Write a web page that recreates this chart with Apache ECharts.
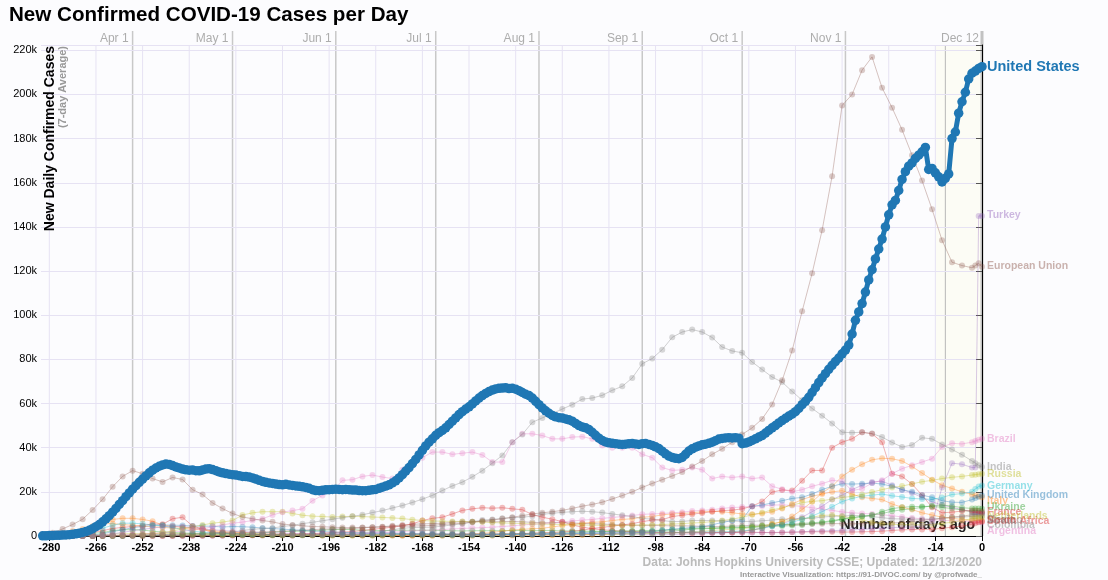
<!DOCTYPE html>
<html><head><meta charset="utf-8">
<script src="https://cdn.jsdelivr.net/npm/echarts@6/dist/echarts.min.js"></script>
<style>html,body{margin:0;padding:0;background:#fcfcfe}#c{width:1108px;height:580px}</style>
</head><body><div id="c"></div>
<script>
// ---------- DATA (values in thousands of cases, 7-day average) ----------
const xTicks = [-280,-266,-252,-238,-224,-210,-196,-182,-168,-154,-140,-126,-112,-98,-84,-70,-56,-42,-28,-14,0];
const monthDays = [-255,-225,-194,-164,-133,-102,-72,-41,-11,0];
const monthNames = ['Apr 1','May 1','Jun 1','Jul 1','Aug 1','Sep 1','Oct 1','Nov 1','','Dec 12'];

// United States: daily from day -282 to day 0
const usFirstDay = -282;
const usValues = [
0.1,0.1,0.2,0.2,0.3,0.3,0.4,0.5,0.6,0.8,
1.0,1.3,1.6,2.0,2.6,3.3,4.2,5.2,6.4,7.8,
9.2,10.8,12.5,14.3,16.0,17.8,19.5,21.2,22.8,24.3,
25.8,27.2,28.6,29.8,30.8,31.6,32.2,32.6,32.4,31.9,
31.3,30.8,30.3,30.0,29.8,29.9,29.6,29.5,29.9,30.3,
30.5,30.1,29.6,29.0,28.6,28.3,28.0,27.8,27.6,27.3,
27.0,26.9,26.7,26.3,25.8,25.2,24.7,24.3,24.0,23.8,
23.5,23.3,23.2,23.4,23.1,22.9,22.7,22.5,22.3,22.0,
21.6,21.0,20.6,20.5,20.7,20.9,21.0,21.1,21.2,21.1,
21.0,21.1,21.0,20.8,20.8,20.6,20.5,20.5,20.7,20.9,
21.1,21.6,22.1,22.6,23.2,24.0,25.0,26.3,27.8,29.4,
31.0,32.8,34.7,36.7,38.8,40.8,42.5,44.0,45.6,46.8,
47.8,49.0,50.5,52.0,53.5,55.0,56.3,57.5,58.5,59.8,
61.2,62.5,63.6,64.6,65.4,66.1,66.6,66.9,67.0,67.1,
66.8,66.9,66.5,65.8,65.0,64.2,63.6,62.5,61.0,59.5,
58.0,56.7,55.6,54.6,54.0,53.6,53.4,53.0,52.6,52.0,
51.0,50.0,49.4,49.0,48.2,47.0,45.6,44.3,43.3,42.6,
42.2,42.0,41.8,41.6,41.5,41.6,41.8,41.9,41.7,41.5,
41.8,41.9,41.5,41.0,40.4,39.6,38.4,37.2,36.2,35.6,
35.2,35.0,35.6,37.0,38.5,39.5,40.2,40.8,41.3,41.6,
42.0,42.5,43.2,43.9,44.2,44.4,44.5,44.4,44.5,44.3,
41.8,42.1,42.6,43.3,44.0,44.8,45.5,46.6,47.8,49.0,
50.0,51.2,52.3,53.3,54.3,55.2,56.3,57.8,59.5,61.0,
62.8,65.0,67.2,69.5,71.6,73.5,75.5,77.3,79.0,80.6,
82.5,84.2,86.5,91.5,97.7,101.5,105.3,110.5,116.0,120.6,
125.5,130.0,134.5,140.0,145.5,150.0,152.0,156.5,161.5,165.0,
167.5,169.0,171.0,172.5,174.0,176.0,166.0,166.5,164.5,162.7,
160.4,162.0,164.0,180.0,183.0,191.5,196.7,201.0,207.0,209.6,
210.6,211.8,212.6];

// other countries: sampled days
const sampleDays = [
-282,-279,-276,-273,-270,-267,-264,-261,-258,-255,
-252,-249,-246,-243,-240,-237,-234,-231,-228,-225,
-222,-219,-216,-213,-210,-207,-204,-201,-198,-195,
-192,-189,-186,-183,-180,-177,-174,-171,-168,-165,
-162,-159,-156,-153,-150,-147,-144,-141,-138,-135,
-132,-129,-126,-123,-120,-117,-114,-111,-108,-105,
-102,-99,-96,-93,-90,-87,-84,-81,-78,-75,
-72,-69,-66,-63,-60,-57,-54,-51,-48,-45,
-42,-39,-36,-33,-30,-27,-24,-21,-18,-15,
-12,-9,-6,-3,-2,-1,0];

const euValues = [
0.5,1.5,3.2,5.2,7.6,11.8,16.6,22.3,27.0,29.6,
28.2,26.0,24.5,26.5,25.6,21.0,18.8,15.0,12.4,10.2,
8.6,7.8,7.0,6.4,5.4,5.0,4.6,4.3,4.2,4.0,
3.8,3.8,3.9,4.0,4.1,4.3,4.5,4.5,4.6,4.8,
5.2,5.5,5.8,6.2,6.8,7.2,7.8,8.5,9.2,10.0,
10.5,11.0,11.6,12.5,13.5,14.3,15.3,16.8,18.3,20.0,
22.0,23.8,25.5,27.2,29.0,31.5,34.0,37.0,39.5,42.5,
46.0,49.0,53.0,59.6,70.5,84.0,101.8,119.0,138.5,163.0,
195.0,200.0,211.0,217.0,203.0,194.0,184.0,172.5,161.0,148.0,
134.0,124.0,122.5,121.5,122.5,123.5,122.0];
const indiaValues = [
0,0,0,0.01,0.02,0.03,0.06,0.08,0.1,0.2,
0.4,0.6,0.6,0.9,1.0,1.2,1.3,1.5,1.6,1.8,
2.5,3.0,3.4,3.6,4.3,4.8,5.6,6.2,6.9,7.6,
8.3,8.9,9.6,10.6,11.5,12.7,13.8,15.2,16.7,18.4,
20.6,22.7,24.4,26.8,29.6,33.0,36.5,42.5,46.0,51.5,
53.5,55.5,57.5,59.5,62.0,62.5,63.7,66.0,67.8,71.6,
78.0,80.4,84.4,90.0,92.4,93.5,92.4,89.9,85.6,83.8,
83.0,78.8,75.4,72.0,69.7,65.5,61.5,57.8,54.5,51.0,
47.0,46.8,47.0,46.4,44.8,42.4,40.3,41.2,44.5,44.0,
41.5,39.2,36.8,34.0,33.0,32.0,31.2];
const brazilValues = [
0,0,0,0.01,0.03,0.1,0.2,0.3,0.4,0.6,
0.9,1.2,1.5,1.8,2.2,2.6,3.3,4.2,5.0,5.8,
6.3,7.0,7.8,9.5,10.8,11.5,12.3,16.0,18.4,20.6,
25.2,25.5,27.0,27.6,26.7,26.0,30.0,32.0,35.5,38.0,
38.0,37.0,37.5,38.0,36.7,33.5,33.5,42.5,46.3,46.3,
45.5,44.0,44.0,44.8,45.0,44.0,41.0,40.0,40.0,40.0,
37.0,35.5,31.0,29.7,30.0,31.0,30.0,26.0,27.0,26.5,
27.0,26.0,26.5,22.5,21.2,20.0,21.0,22.5,23.7,25.2,
24.8,20.6,21.4,24.0,25.2,28.2,30.5,32.0,33.5,35.0,
40.3,42.0,41.7,42.5,43.0,43.6,44.0];
const turkeyValues = [
0,0,0,0,0.02,0.1,0.3,1.0,1.6,2.4,
3.0,3.6,4.2,4.3,4.2,3.8,3.2,2.8,2.5,2.2,
2.0,1.7,1.5,1.4,1.3,1.1,1.0,0.9,0.9,0.9,
0.9,0.9,1.0,1.3,1.4,1.4,1.2,1.2,1.1,1.1,
1.1,1.1,1.0,1.0,0.9,0.9,0.9,0.9,1.0,1.0,
1.0,1.1,1.2,1.2,1.3,1.4,1.5,1.6,1.6,1.6,
1.6,1.6,1.6,1.7,1.7,1.7,1.7,1.6,1.6,1.5,
1.5,1.5,1.6,1.6,1.7,1.8,1.9,2.2,2.3,2.4,
2.6,2.8,3.0,3.3,3.5,3.8,4.0,4.1,4.5,6.0,
22.0,33.0,32.5,31.0,31.0,145.0,145.0];
const russiaValues = [
0,0,0,0,0.01,0.03,0.07,0.15,0.3,0.5,
0.7,1.1,1.5,2.3,3.2,4.2,5.0,5.8,6.3,7.0,
9.5,10.5,11.0,11.0,11.0,10.2,9.4,9.0,8.8,8.6,
8.8,8.9,8.8,8.6,8.4,8.2,7.9,7.4,7.0,6.8,
6.7,6.6,6.6,6.4,6.3,6.1,5.9,5.8,5.6,5.5,
5.4,5.3,5.2,5.1,5.0,4.9,4.8,4.8,4.8,4.9,
5.0,5.1,5.2,5.4,5.6,5.9,6.1,6.5,7.0,7.6,
8.5,9.6,10.6,11.8,12.8,14.0,15.1,15.7,16.0,16.7,
17.4,18.0,18.8,19.9,21.0,22.0,22.6,23.6,24.6,25.2,
26.0,26.6,27.0,27.6,27.8,28.0,28.2];
const germanyValues = [
0.01,0.02,0.1,0.4,1.0,2.2,3.6,4.8,5.8,5.8,
5.5,5.0,4.6,3.8,3.0,2.2,1.8,1.5,1.2,1.1,
0.9,0.8,0.8,0.6,0.6,0.5,0.5,0.5,0.4,0.4,
0.4,0.4,0.4,0.3,0.4,0.6,0.7,0.6,0.5,0.4,
0.4,0.4,0.4,0.4,0.5,0.5,0.6,0.7,0.7,0.8,
0.9,1.0,1.0,1.1,1.3,1.4,1.5,1.4,1.4,1.3,
1.3,1.3,1.3,1.4,1.6,1.7,1.8,1.9,1.9,2.1,
2.3,2.8,3.5,4.5,5.0,6.3,7.5,9.0,11.0,13.2,
15.6,17.0,18.0,18.5,19.0,18.2,17.7,17.0,16.8,16.6,
17.4,18.8,19.2,20.0,21.3,22.4,22.9];
const ukValues = [
0.01,0.02,0.05,0.1,0.2,0.5,1.0,2.0,2.8,3.8,
4.3,4.8,5.0,4.9,4.8,4.5,4.5,4.4,4.1,4.3,
4.2,4.0,3.6,3.4,3.1,2.8,2.6,2.3,2.0,1.8,
1.6,1.5,1.3,1.2,1.2,1.1,1.0,0.9,0.9,0.8,
0.7,0.6,0.6,0.6,0.6,0.7,0.7,0.7,0.8,0.8,
0.8,0.9,0.9,1.0,1.0,1.1,1.1,1.2,1.3,1.4,
1.6,2.0,2.6,3.1,3.4,3.9,4.2,5.1,6.1,7.0,
7.4,13.5,14.0,15.0,16.0,17.0,17.5,19.0,21.0,22.5,
23.7,23.5,23.7,24.0,23.5,22.5,21.0,20.0,18.5,17.5,
16.0,15.3,15.2,16.5,17.2,17.8,18.4];
const italyValues = [
0.1,0.3,1.2,2.3,3.2,4.4,5.6,5.6,5.2,4.8,
4.4,4.2,3.9,3.6,3.4,3.0,2.8,2.4,2.0,1.7,
1.5,1.2,1.0,0.9,0.8,0.6,0.6,0.5,0.5,0.4,
0.3,0.3,0.3,0.3,0.3,0.3,0.2,0.2,0.2,0.2,
0.2,0.2,0.2,0.2,0.2,0.2,0.2,0.2,0.3,0.3,
0.3,0.3,0.4,0.4,0.5,0.7,0.9,1.1,1.2,1.3,
1.3,1.4,1.4,1.5,1.5,1.5,1.6,1.6,1.7,1.7,
2.0,2.6,3.6,5.3,6.5,8.8,12.0,15.5,19.5,22.5,
27.0,30.0,32.5,34.5,35.2,35.0,34.0,31.5,28.5,25.5,
23.0,21.5,20.0,18.8,18.3,18.0,17.6];
const ukraineValues = [
0,0,0,0,0,0,0,0.02,0.05,0.1,
0.15,0.2,0.3,0.35,0.4,0.4,0.45,0.45,0.45,0.5,
0.45,0.45,0.45,0.45,0.45,0.4,0.4,0.45,0.5,0.55,
0.55,0.6,0.65,0.7,0.8,0.9,0.95,0.95,0.95,0.9,
0.9,0.85,0.85,0.85,0.85,0.9,0.95,1.0,1.1,1.2,
1.3,1.3,1.4,1.6,1.7,1.9,2.0,2.2,2.3,2.4,
2.5,2.5,2.6,2.9,3.1,3.4,3.6,3.6,3.8,4.0,
4.0,4.3,4.6,4.9,5.1,5.3,5.7,6.0,6.3,7.0,
7.7,8.4,8.9,9.5,10.2,11.2,11.9,12.3,13.0,13.7,
14.0,13.6,12.8,12.5,12.5,12.4,12.3];
const franceValues = [
0.05,0.1,0.3,0.6,1.0,1.6,2.4,3.4,3.9,4.3,
4.8,5.5,5.3,7.8,8.5,4.5,3.2,1.4,1.5,1.1,
0.9,0.5,0.6,0.4,0.3,0.2,0.4,0.4,0.5,0.5,
0.5,0.4,0.3,0.4,0.4,0.4,0.5,0.5,0.5,0.5,
0.5,0.6,0.6,0.6,0.7,0.8,0.9,1.0,1.1,1.3,
1.5,1.6,1.8,2.2,2.6,3.4,3.9,4.5,5.0,5.6,
6.5,7.2,7.4,8.8,9.4,9.9,10.4,11.0,11.5,11.7,
12.3,13.5,15.6,19.9,20.8,20.6,25.0,29.7,29.7,40.0,
42.5,44.0,47.0,46.3,42.5,28.2,27.0,23.5,18.5,13.0,
10.5,10.8,11.3,11.5,11.5,11.3,11.0];
const netherlandsValues = [
0,0,0.05,0.1,0.25,0.4,0.6,0.9,1.0,1.1,
1.1,1.1,1.1,1.1,1.0,0.9,0.8,0.7,0.6,0.45,
0.4,0.3,0.25,0.2,0.2,0.2,0.2,0.2,0.2,0.15,
0.15,0.15,0.15,0.15,0.1,0.1,0.1,0.1,0.1,0.1,
0.1,0.1,0.1,0.1,0.15,0.2,0.3,0.4,0.45,0.5,
0.5,0.5,0.6,0.6,0.6,0.6,0.6,0.7,0.8,0.9,
1.0,1.2,1.3,1.5,1.7,1.9,2.2,2.5,2.8,3.0,
3.3,3.9,4.6,5.6,6.5,7.2,7.8,8.5,9.3,9.5,
9.0,8.0,7.3,6.2,5.6,5.3,5.1,5.1,5.0,5.2,
5.6,6.3,7.0,7.8,8.1,8.3,8.5];
const southAfricaValues = [
0,0,0,0,0,0.01,0.05,0.1,0.1,0.1,
0.05,0.05,0.05,0.05,0.1,0.15,0.15,0.2,0.25,0.35,
0.4,0.5,0.6,0.7,0.8,0.9,1.0,1.1,1.3,1.6,
1.8,2.0,2.5,3.0,3.5,4.0,4.6,5.5,7.0,8.0,
8.5,10.0,11.6,12.3,12.8,12.6,12.8,12.3,11.9,9.7,
8.5,7.6,6.5,5.0,4.0,3.3,2.8,2.5,2.2,2.0,
1.8,1.6,1.5,1.5,1.5,1.5,1.5,1.6,1.6,1.6,
1.6,1.7,1.6,1.5,1.6,1.7,1.8,1.9,1.9,1.9,
1.8,1.8,1.9,2.0,2.2,2.5,2.8,2.9,3.0,3.0,
3.5,4.0,4.5,5.3,5.8,6.2,6.6];
const colombiaValues = [
0,0,0,0,0.02,0.05,0.1,0.1,0.1,0.1,
0.1,0.1,0.1,0.1,0.15,0.2,0.2,0.2,0.25,0.3,
0.35,0.4,0.5,0.5,0.6,0.7,0.8,0.9,1.0,1.2,
1.3,1.4,1.6,1.8,2.2,2.8,3.5,3.8,3.9,4.0,
4.5,5.0,5.5,6.5,7.2,7.5,8.0,8.3,8.5,9.0,
9.8,10.3,10.7,11.0,11.2,11.0,10.6,10.0,9.4,8.8,
8.0,7.6,7.0,6.5,6.6,7.0,7.0,7.0,6.8,6.8,
6.6,6.6,6.9,7.2,7.6,7.7,7.8,8.0,8.6,8.9,
9.0,9.3,9.2,8.8,8.3,7.8,7.7,7.6,7.5,7.7,
8.0,8.4,8.6,8.9,9.0,9.0,9.1];
const argentinaValues = [
0,0,0,0,0,0,0.02,0.05,0.08,0.1,
0.1,0.1,0.1,0.1,0.08,0.1,0.12,0.13,0.14,0.14,
0.15,0.2,0.25,0.3,0.35,0.45,0.5,0.6,0.7,0.8,
0.9,1.0,1.2,1.4,1.6,1.8,2.0,2.3,2.5,2.7,
2.9,3.2,3.4,3.6,3.8,4.0,4.3,4.6,5.0,5.3,
5.6,6.0,6.4,6.8,7.2,7.5,8.0,8.4,8.8,9.3,
9.8,10.0,10.2,10.5,10.8,11.3,11.6,11.9,12.5,12.9,
13.1,13.4,13.6,14.0,14.1,13.8,13.4,12.8,12.2,11.6,
10.9,10.5,10.2,10.0,9.6,9.2,8.6,8.2,7.8,7.4,
7.1,6.9,6.8,6.5,6.4,6.3,6.2];
const spainValues = [
0.02,0.1,0.3,0.9,1.8,3.5,5.5,7.5,8.0,8.0,
7.5,6.7,5.0,4.4,4.0,3.5,3.5,2.0,1.5,1.0,
0.9,0.7,0.6,0.5,0.5,0.4,0.5,0.3,0.2,0.3,
0.3,0.3,0.3,0.3,0.3,0.4,0.5,0.5,0.5,0.5,
0.6,0.7,0.8,1.0,1.2,1.6,2.2,2.7,3.0,3.3,
3.5,4.1,4.7,5.2,5.8,6.2,6.4,7.0,7.5,7.8,
8.5,8.8,9.6,10.0,10.2,10.5,11.0,11.2,11.0,10.5,
10.0,9.8,10.2,11.0,12.5,14.5,16.5,18.0,19.0,20.0,
20.5,19.0,17.5,17.0,16.5,14.5,13.0,12.0,10.5,9.5,
8.5,8.0,7.5,7.0,7.0,7.0,6.8];
const polandValues = [
0,0,0,0.01,0.03,0.06,0.1,0.2,0.3,0.35,
0.4,0.4,0.4,0.35,0.3,0.3,0.3,0.3,0.3,0.3,
0.3,0.35,0.3,0.3,0.3,0.25,0.3,0.3,0.3,0.35,
0.4,0.5,0.4,0.4,0.3,0.35,0.3,0.3,0.3,0.3,
0.3,0.3,0.3,0.3,0.3,0.35,0.4,0.45,0.5,0.6,
0.65,0.7,0.75,0.8,0.8,0.8,0.75,0.7,0.65,0.6,
0.6,0.6,0.6,0.7,0.8,0.9,1.0,1.2,1.4,1.7,
2.0,2.8,3.5,4.6,5.5,7.2,8.5,11.0,13.5,16.5,
18.5,21.0,23.0,24.5,24.8,23.0,21.0,19.5,17.5,15.5,
14.0,13.0,12.0,11.0,10.8,10.6,10.4];
const mexicoValues = [
0,0,0,0,0.01,0.03,0.06,0.1,0.15,0.2,
0.3,0.4,0.4,0.5,0.5,0.7,0.8,1.0,1.2,1.4,
1.5,1.7,1.8,2.0,2.2,2.4,2.6,2.9,3.1,3.2,
3.2,3.4,3.7,4.0,4.2,4.6,5.0,5.3,5.5,5.6,
5.8,6.2,6.5,6.5,6.6,6.4,6.5,6.6,6.4,6.2,
6.0,6.0,6.1,5.9,5.7,5.6,5.4,5.2,5.0,4.9,
4.8,4.8,4.7,4.6,4.6,4.5,4.4,4.2,4.3,4.5,
4.6,4.9,4.9,5.0,5.0,5.2,5.3,5.5,5.5,5.6,
5.6,5.5,5.6,5.8,5.9,5.9,6.1,6.5,7.0,7.5,
8.0,8.6,9.0,9.6,9.8,10.0,10.1];
const iranValues = [
0.1,0.3,0.8,1.1,1.2,1.3,1.5,2.5,2.8,2.9,
2.7,2.2,1.8,1.6,1.4,1.2,1.1,1.0,1.0,1.0,
1.0,1.2,1.5,1.7,2.0,2.1,2.2,2.3,2.6,2.9,
3.0,2.9,2.6,2.6,2.4,2.5,2.6,2.6,2.6,2.6,
2.5,2.4,2.3,2.4,2.4,2.4,2.4,2.5,2.5,2.4,
2.5,2.5,2.3,2.3,2.2,2.2,2.1,2.0,2.0,2.0,
2.0,2.1,2.2,2.3,2.6,3.1,3.3,3.4,3.5,3.6,
3.8,4.0,4.1,4.4,4.5,4.7,5.0,5.5,6.0,6.6,
7.5,8.2,8.8,9.4,11.0,12.4,13.0,13.3,13.4,13.4,
13.0,12.4,11.8,11.0,10.8,10.7,10.5];

// ---------- STYLE / LAYOUT ----------
const others = [
  {name:'Iran', values:iranValues, color:'#2ca02c'},
  {name:'Mexico', values:mexicoValues, color:'#8c564b'},
  {name:'Poland', values:polandValues, color:'#9467bd'},
  {name:'Spain', values:spainValues, color:'#ff7f0e'},
  {name:'Argentina', values:argentinaValues, color:'#e377c2'},
  {name:'Colombia', values:colombiaValues, color:'#7f7f7f'},
  {name:'South Africa', values:southAfricaValues, color:'#d62728'},
  {name:'Netherlands', values:netherlandsValues, color:'#bcbd22'},
  {name:'France', values:franceValues, color:'#d62728'},
  {name:'Ukraine', values:ukraineValues, color:'#2ca02c'},
  {name:'Italy', values:italyValues, color:'#ff7f0e'},
  {name:'United Kingdom', values:ukValues, color:'#1f77b4'},
  {name:'Germany', values:germanyValues, color:'#17becf'},
  {name:'Russia', values:russiaValues, color:'#bcbd22'},
  {name:'Turkey', values:turkeyValues, color:'#9467bd'},
  {name:'Brazil', values:brazilValues, color:'#e377c2'},
  {name:'India', values:indiaValues, color:'#7f7f7f'},
  {name:'European Union', values:euValues, color:'#8c564b'}
];
// end-label vertical positions (px), after overlap avoidance
const endLabels = [
  ['Turkey','#9467bd',215.5],['European Union','#8c564b',266.5],['Brazil','#e377c2',439],
  ['India','#7f7f7f',467],['Russia','#bcbd22',474],['Germany','#17becf',486.5],
  ['United Kingdom','#1f77b4',495],['Italy','#ff7f0e',501.5],['Ukraine','#2ca02c',507.5],
  ['France','#d62728',512],['Netherlands','#bcbd22',516.5],['Spain','#555555',520],
  ['Mexico','#8c564b',520.5],['South Africa','#d62728',521.5],['Colombia','#7f7f7f',525.5],['Argentina','#e377c2',531]
];

const FONT = '"Liberation Sans", Arial, Helvetica, sans-serif';
const chart = echarts.init(document.getElementById('c'));

const series = others.map(o => ({
  name:o.name, type:'line', silent:true, animation:false,
  data: sampleDays.map((d,i)=>[d, o.values[i]*1000]),
  symbol:'circle', symbolSize:6, showSymbol:true, showAllSymbol:true,
  lineStyle:{width:1, color:o.color, opacity:0.35},
  itemStyle:{color:o.color, opacity:0.3},
  emphasis:{disabled:true}, z:3
}));
series.push({
  name:'United States', type:'line', silent:true, animation:false,
  data: usValues.map((v,i)=>[usFirstDay+i, v*1000]),
  symbol:'circle', symbolSize:9.5, showSymbol:true, showAllSymbol:true,
  lineStyle:{width:5, color:'#1f77b4'}, itemStyle:{color:'#1f77b4'},
  emphasis:{disabled:true}, z:10
});

chart.setOption({
  backgroundColor:'#fcfcfe',
  animation:false,
  textStyle:{fontFamily:FONT},
  title:{text:'New Confirmed COVID-19 Cases per Day', left:4, top:0,
    textStyle:{fontFamily:FONT, fontSize:20.6, fontWeight:'bold', color:'#000'}},
  grid:{left:41, right:126, top:45, bottom:44, containLabel:false},
  xAxis:{type:'value', min:-282.5, max:0,
    axisLine:{onZero:false, lineStyle:{color:'#000', width:1}},
    axisTick:{customValues:xTicks, length:5, lineStyle:{color:'#000'}},
    axisLabel:{customValues:xTicks, fontSize:11, fontWeight:'bold', color:'#000', margin:6, fontFamily:FONT},
    splitLine:{show:false}},
  yAxis:{type:'value', min:0, max:222400, interval:20000,
    axisLine:{show:true, lineStyle:{color:'#000', width:1}},
    axisTick:{show:true, length:6, lineStyle:{color:'#555'}},
    axisLabel:{fontSize:11, color:'#000', margin:4, fontFamily:FONT,
      formatter:v => (v % 20000 !== 0) ? '' : (v === 0 ? '0' : (v/1000)+'k')},
    splitLine:{show:true, lineStyle:{color:'#e6e2f3', width:1}}},
  series: series
});

// ---------- guides & texts derived from the axes ----------
const px = d => chart.convertToPixel({xAxisIndex:0}, d);
const py = v => chart.convertToPixel({yAxisIndex:0}, v);
const yTop = py(222400), yBot = py(0), x0 = px(0);
const els = [];
els.push({type:'rect', z:-30, silent:true, shape:{x:px(-14), y:yTop, width:x0-px(-14), height:yBot-yTop},
  style:{fill:'rgba(255,255,190,0.14)'}});
xTicks.forEach(d => els.push({type:'line', z:-20, silent:true,
  shape:{x1:px(d), y1:yTop, x2:px(d), y2:yBot}, style:{stroke:'#e6e2f3', lineWidth:1}}));
monthDays.forEach((d,i) => {
  const last = d === 0;
  const labelled = !!monthNames[i];
  els.push({type:'line', z:-10, silent:true,
    shape:{x1:px(d), y1: labelled ? 31 : yTop, x2:px(d), y2:yBot},
    style:{stroke: last ? '#c2c2c2' : (labelled ? '#c8c8c8' : '#b8b8b8'), lineWidth: last ? 3 : (labelled ? 1.5 : 1)}});
  if (labelled) els.push({type:'text', z:-10, silent:true, x:px(d)-(last?3:4), y:39,
    style:{text:monthNames[i], fill:'#adadad', font:'12px '+FONT, align:'right', verticalAlign:'middle'}});
});
els.push({type:'text', z:1, silent:true, x:x0-7, y:525,
  style:{text:'Number of days ago', fill:'#222', font:'bold 14px '+FONT, align:'right', verticalAlign:'middle'}});
els.push({type:'text', silent:true, x:50, y:46, rotation:Math.PI/2,
  style:{text:'New Daily Confirmed Cases', fill:'#000', font:'bold 14px '+FONT, align:'right', verticalAlign:'middle'}});
els.push({type:'text', silent:true, x:63, y:46, rotation:Math.PI/2,
  style:{text:'(7-day Average)', fill:'#999', font:'bold 11px '+FONT, align:'right', verticalAlign:'middle'}});
els.push({type:'text', silent:true, x:x0, y:563,
  style:{text:'Data: Johns Hopkins University CSSE; Updated: 12/13/2020', fill:'#bbbbbb', font:'bold 12px '+FONT, align:'right', verticalAlign:'middle'}});
els.push({type:'text', silent:true, x:x0, y:575,
  style:{text:'Interactive Visualization: https://91-DIVOC.com/ by @profwade_', fill:'#999', font:'bold 8px '+FONT, align:'right', verticalAlign:'middle'}});
endLabels.forEach(([n,c,y]) => els.push({type:'text', silent:true, z:20, x:x0+5, y:y, style:{text:n, fill:c, opacity:0.45,
  font:'bold 10.5px '+FONT, align:'left', verticalAlign:'middle'}}));
els.push({type:'text', silent:true, z:20, x:x0+5, y:py(usValues[usValues.length-1]*1000)+0.5,
  style:{text:'United States', fill:'#1f77b4', font:'bold 14.5px '+FONT, align:'left', verticalAlign:'middle'}});
chart.setOption({graphic:{elements:els}});
</script></body></html>
